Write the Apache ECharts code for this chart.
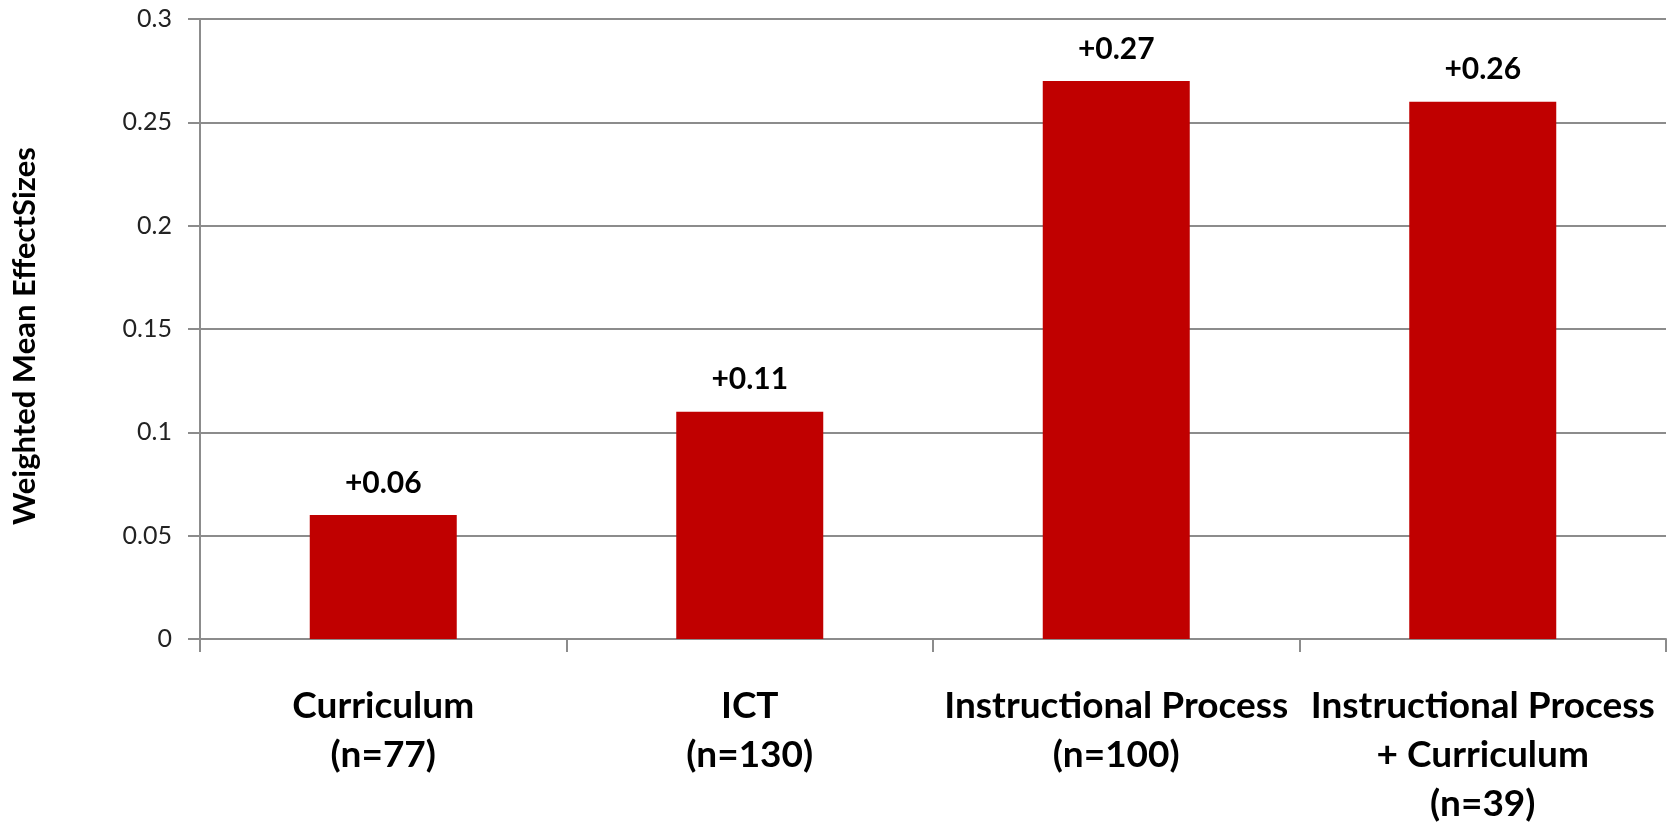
<!DOCTYPE html>
<html>
<head>
<meta charset="utf-8">
<script src="https://cdn.jsdelivr.net/npm/echarts@6/dist/echarts.min.js"></script>
<style>
html,body{margin:0;padding:0;background:#fff;}
#chart{width:1673px;height:822px;}
</style>
</head>
<body>
<div id="chart"></div>
<script>
const categories = ['Curriculum\n(n=77)', 'ICT\n(n=130)', 'Instructional Process\n(n=100)', 'Instructional Process\n+ Curriculum\n(n=39)'];
const values = [0.06, 0.11, 0.27, 0.26];
const valueLabels = ['+0.06', '+0.11', '+0.27', '+0.26'];
const yTicks = [0, 0.05, 0.1, 0.15, 0.2, 0.25, 0.3];
const yTitle = 'Weighted Mean EffectSizes';

const FONT = 'Lato';
const chart = echarts.init(document.getElementById('chart'), null, {renderer: 'canvas'});
chart.setOption({
  backgroundColor: '#ffffff',
  animation: false,
  grid: {left: 200, right: 7, top: 19, bottom: 183, containLabel: false, outerBoundsMode: 'none'},
  xAxis: {
    type: 'category',
    data: categories,
    boundaryGap: true,
    axisLine: {show: true, lineStyle: {color: '#8c8c8c', width: 2}},
    axisTick: {show: true, length: 13, alignWithLabel: false, lineStyle: {color: '#8c8c8c', width: 2}},
    axisLabel: {
      interval: 0, margin: 43,
      fontFamily: FONT, fontWeight: 'bold', fontSize: 37, lineHeight: 49,
      color: '#000000', align: 'center'
    }
  },
  yAxis: {
    type: 'value',
    min: yTicks[0], max: yTicks[yTicks.length - 1], interval: 0.05,
    name: yTitle,
    nameLocation: 'middle',
    nameRotate: 90,
    nameGap: 160,
    nameTextStyle: {fontFamily: FONT, fontWeight: 'bold', fontSize: 31, color: '#000000', padding: [0, 14, 0, 0]},
    axisLine: {show: true, lineStyle: {color: '#8c8c8c', width: 2}},
    axisTick: {show: true, length: 12, lineStyle: {color: '#8c8c8c', width: 2}},
    splitLine: {show: true, lineStyle: {color: '#8c8c8c', width: 2}},
    axisLabel: {
      margin: 28, fontFamily: FONT, fontSize: 25, color: '#222222',
      formatter: v => String(Math.round(v * 100) / 100)
    }
  },
  series: [{
    type: 'bar',
    data: values,
    barWidth: 147,
    itemStyle: {color: '#C00000'},
    label: {
      show: true, position: 'top', distance: 17,
      fontFamily: FONT, fontWeight: 'bold', fontSize: 30, color: '#000000',
      formatter: p => valueLabels[p.dataIndex]
    }
  }]
});
</script>
</body>
</html>
